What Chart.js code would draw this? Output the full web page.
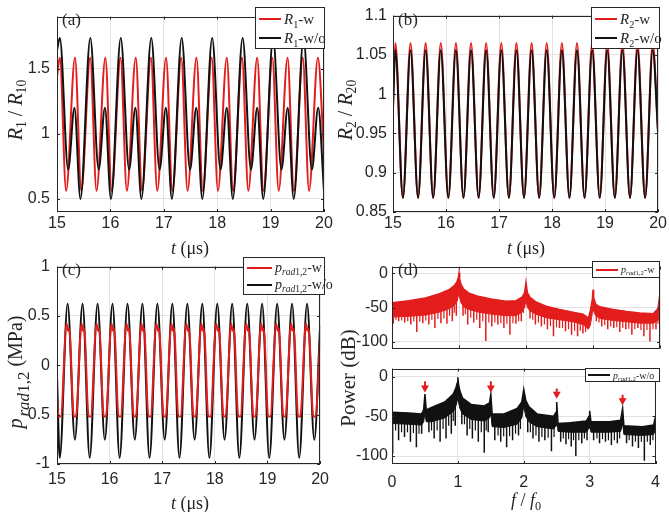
<!DOCTYPE html>
<html>
<head>
<meta charset="utf-8">
<script src="https://cdn.jsdelivr.net/npm/chart.js@4/dist/chart.umd.min.js"></script>
<style>
  body { margin: 0; background: #fff; }
  #fig { position: relative; width: 669px; height: 512px; background: #fff; overflow: hidden;
         font-family: "Liberation Serif", "Times New Roman", serif; color: #262626; }
  #fig canvas { position: absolute; }
  .lbl { position: absolute; white-space: nowrap; transform: translate(-50%, -50%); font-size: 18px; }
  .ylbl { position: absolute; white-space: nowrap; transform: translate(-50%, -50%) rotate(-90deg); font-size: 20px; }
  .tag { position: absolute; font-size: 17px; line-height: 17px; }
  .legend { position: absolute; background: #fff; border: 1px solid #262626; box-sizing: border-box; }
  .row { position: absolute; left: 3px; display: flex; align-items: center; white-space: nowrap; }
  .swatch { display: inline-block; height: 2px; margin-right: 3px; }
  sub { font-size: 0.68em; vertical-align: -0.35em; line-height: 0; }
  sub.big { font-size: 0.85em; vertical-align: -0.4em; margin-left: 2px; }
</style>
</head>
<body>
<div id="fig">
  <canvas id="chartA" width="335" height="240" style="left:0;top:0"></canvas>
  <canvas id="chartB" width="334" height="240" style="left:335px;top:0"></canvas>
  <canvas id="chartC" width="335" height="250" style="left:0;top:250px"></canvas>
  <canvas id="chartD1" width="334" height="109" style="left:335px;top:253px"></canvas>
  <canvas id="chartD2" width="334" height="145" style="left:335px;top:355px"></canvas>

  <div class="tag" style="left:62px;top:11px">(a)</div>
  <div class="tag" style="left:398px;top:11px">(b)</div>
  <div class="tag" style="left:62px;top:261px">(c)</div>
  <div class="tag" style="left:398px;top:261px">(d)</div>

  <div class="ylbl" style="left:15px;top:110px"><i>R</i><sub>1</sub> / <i>R</i><sub>10</sub></div>
  <div class="ylbl" style="left:345px;top:110px"><i>R</i><sub>2</sub> / <i>R</i><sub>20</sub></div>
  <div class="ylbl" style="left:15px;top:372px"><i>p</i><sub class="big"><i>rad</i>1,2</sub> (MPa)</div>
  <div class="ylbl" style="left:348px;top:378px;font-size:21px">Power (dB)</div>

  <div class="lbl" style="left:190px;top:248px"><i>t</i> (μs)</div>
  <div class="lbl" style="left:526px;top:248px"><i>t</i> (μs)</div>
  <div class="lbl" style="left:190px;top:503px"><i>t</i> (μs)</div>
  <div class="lbl" style="left:526px;top:500px"><i>f</i> / <i>f</i><sub>0</sub></div>

  <div class="legend" style="left:255px;top:7px;width:70px;height:42px;font-size:15px">
    <div class="row" style="top:2px;height:18px"><span class="swatch" style="width:22px;background:#e31c1c"></span><span><i>R</i><sub>1</sub>-w</span></div>
    <div class="row" style="top:21px;height:18px"><span class="swatch" style="width:22px;background:#111"></span><span><i>R</i><sub>1</sub>-w/o</span></div>
  </div>
  <div class="legend" style="left:591px;top:7px;width:69px;height:42px;font-size:15px">
    <div class="row" style="top:2px;height:18px"><span class="swatch" style="width:22px;background:#e31c1c"></span><span><i>R</i><sub>2</sub>-w</span></div>
    <div class="row" style="top:21px;height:18px"><span class="swatch" style="width:22px;background:#111"></span><span><i>R</i><sub>2</sub>-w/o</span></div>
  </div>
  <div class="legend" style="left:243px;top:257px;width:82px;height:38px;font-size:14px">
    <div class="row" style="top:2px;height:16px"><span class="swatch" style="width:25px;background:#e31c1c"></span><span><i>p</i><sub><i>rad</i>1,2</sub>-w</span></div>
    <div class="row" style="top:19px;height:16px"><span class="swatch" style="width:25px;background:#111"></span><span><i>p</i><sub><i>rad</i>1,2</sub>-w/o</span></div>
  </div>
  <div class="legend" style="left:592px;top:261px;width:68px;height:17px;font-size:10px">
    <div class="row" style="top:0;height:15px"><span class="swatch" style="width:22px;background:#e31c1c"></span><span><i>p</i><sub><i>rad</i>1,2</sub>-w</span></div>
  </div>
  <div class="legend" style="left:585px;top:368px;width:75px;height:14px;font-size:10px">
    <div class="row" style="top:0;height:12px;left:2px"><span class="swatch" style="width:22px;background:#111"></span><span><i>p</i><sub><i>rad</i>1,2</sub>-w/o</span></div>
  </div>
</div>

<script>
// Tick values
const timeTicks = [15, 16, 17, 18, 19, 20];
const aTicks = [0.5, 1, 1.5];
const bTicks = [0.85, 0.9, 0.95, 1, 1.05, 1.1];
const cTicks = [-1, -0.5, 0, 0.5, 1];
const freqTicks = [0, 1, 2, 3, 4];
const dbTicks = [-100, -50, 0];

// (a) R1/R10, extrema
const aTimeRed = [15, 15.053, 15.171, 15.337, 15.455, 15.622, 15.740, 15.906, 16.024, 16.190, 16.308,
  16.475, 16.593, 16.759, 16.877, 17.043, 17.161, 17.327, 17.445, 17.612, 17.730, 17.896, 18.014,
  18.180, 18.298, 18.465, 18.583, 18.749, 18.867, 19.033, 19.151, 19.318, 19.436, 19.602, 19.720,
  19.886, 20];
const aRed = [1.44, 1.585, 0.563, 1.585, 0.563, 1.585, 0.563, 1.585, 0.563, 1.585, 0.563,
  1.585, 0.563, 1.585, 0.563, 1.585, 0.563, 1.585, 0.563, 1.585, 0.563, 1.585, 0.563,
  1.585, 0.563, 1.585, 0.563, 1.585, 0.563, 1.585, 0.563, 1.585, 0.563, 1.585, 0.563,
  1.585, 0.85];
const aTimeBlack = [15, 15.053, 15.209, 15.327, 15.439, 15.624, 15.780, 15.898, 16.010, 16.194, 16.350,
  16.468, 16.580, 16.765, 16.921, 17.039, 17.151, 17.335, 17.491, 17.609, 17.721, 17.906, 18.062,
  18.180, 18.292, 18.476, 18.632, 18.750, 18.862, 19.047, 19.203, 19.321, 19.433, 19.617, 19.773,
  19.891, 20];
const aBlack = [1.64, 1.736, 0.726, 1.2, 0.5, 1.736, 0.726, 1.2, 0.5, 1.736, 0.726,
  1.2, 0.5, 1.736, 0.726, 1.2, 0.5, 1.736, 0.726, 1.2, 0.5, 1.736, 0.726,
  1.2, 0.5, 1.736, 0.726, 1.2, 0.5, 1.736, 0.726, 1.2, 0.5, 1.736, 0.726,
  1.2, 0.56];

// (b) R2/R20
const bTime = [15, 15.044, 15.187, 15.330, 15.473, 15.615, 15.758, 15.901, 16.044, 16.186, 16.329,
  16.472, 16.615, 16.757, 16.900, 17.043, 17.186, 17.328, 17.471, 17.614, 17.757, 17.899, 18.042,
  18.185, 18.328, 18.470, 18.613, 18.756, 18.899, 19.041, 19.184, 19.327, 19.470, 19.612, 19.755,
  19.898, 20];
const bRed = [0.983, 1.065, 0.868, 1.065, 0.868, 1.065, 0.868, 1.065, 0.868, 1.065, 0.868,
  1.065, 0.868, 1.065, 0.868, 1.065, 0.868, 1.065, 0.868, 1.065, 0.868, 1.065, 0.868,
  1.065, 0.868, 1.065, 0.868, 1.065, 0.868, 1.065, 0.868, 1.065, 0.868, 1.065, 0.868,
  1.065, 0.95];
const bBlack = [0.983, 1.056, 0.868, 1.056, 0.868, 1.056, 0.868, 1.056, 0.868, 1.056, 0.868,
  1.056, 0.868, 1.056, 0.868, 1.056, 0.868, 1.056, 0.868, 1.056, 0.868, 1.056, 0.868,
  1.056, 0.868, 1.056, 0.868, 1.056, 0.868, 1.056, 0.868, 1.056, 0.868, 1.056, 0.868,
  1.056, 0.95];

// (c) p_rad1,2 (MPa)
const cTimeBlack = [15, 15.052, 15.202, 15.340, 15.486, 15.621, 15.771, 15.909, 16.055, 16.190, 16.340,
  16.478, 16.624, 16.758, 16.908, 17.046, 17.193, 17.327, 17.477, 17.615, 17.762, 17.896, 18.046,
  18.184, 18.330, 18.465, 18.615, 18.753, 18.899, 19.034, 19.184, 19.322, 19.468, 19.603, 19.752,
  19.890, 20];
const cBlack = [-0.1, -0.937, 0.624, -0.754, 0.624, -0.937, 0.624, -0.754, 0.624, -0.937, 0.624,
  -0.754, 0.624, -0.937, 0.624, -0.754, 0.624, -0.937, 0.624, -0.754, 0.624, -0.937, 0.624,
  -0.754, 0.624, -0.937, 0.624, -0.754, 0.624, -0.937, 0.624, -0.754, 0.624, -0.937, 0.624,
  -0.754, 0.4];
const cTimeRed = [15,
  15.032, 15.072, 15.182, 15.212, 15.232,
  15.320, 15.360, 15.466, 15.496, 15.516,
  15.601, 15.641, 15.751, 15.781, 15.801,
  15.889, 15.929, 16.035, 16.065, 16.085,
  16.170, 16.210, 16.320, 16.350, 16.370,
  16.458, 16.498, 16.604, 16.634, 16.654,
  16.738, 16.778, 16.888, 16.918, 16.938,
  17.026, 17.066, 17.173, 17.203, 17.223,
  17.307, 17.347, 17.457, 17.487, 17.507,
  17.595, 17.635, 17.742, 17.772, 17.792,
  17.876, 17.916, 18.026, 18.056, 18.076,
  18.164, 18.204, 18.310, 18.340, 18.360,
  18.445, 18.485, 18.595, 18.625, 18.645,
  18.733, 18.773, 18.879, 18.909, 18.929,
  19.014, 19.054, 19.164, 19.194, 19.214,
  19.302, 19.342, 19.448, 19.478, 19.498,
  19.583, 19.623, 19.732, 19.762, 19.782,
  19.870, 19.910, 20];
const cRed = [-0.33,
  -0.52, -0.52, 0.42, 0.35, 0.37,
  -0.52, -0.52, 0.42, 0.35, 0.37,
  -0.52, -0.52, 0.42, 0.35, 0.37,
  -0.52, -0.52, 0.42, 0.35, 0.37,
  -0.52, -0.52, 0.42, 0.35, 0.37,
  -0.52, -0.52, 0.42, 0.35, 0.37,
  -0.52, -0.52, 0.42, 0.35, 0.37,
  -0.52, -0.52, 0.42, 0.35, 0.37,
  -0.52, -0.52, 0.42, 0.35, 0.37,
  -0.52, -0.52, 0.42, 0.35, 0.37,
  -0.52, -0.52, 0.42, 0.35, 0.37,
  -0.52, -0.52, 0.42, 0.35, 0.37,
  -0.52, -0.52, 0.42, 0.35, 0.37,
  -0.52, -0.52, 0.42, 0.35, 0.37,
  -0.52, -0.52, 0.42, 0.35, 0.37,
  -0.52, -0.52, 0.42, 0.35, 0.37,
  -0.52, -0.52, 0.42, 0.35, 0.37,
  -0.52, -0.52, 0.27];

// (d) spectra: upper edge and lower edge of the dense band, plus spikes [f, top, bottom]
const redEnvF = [0, 0.25, 0.5, 0.7, 0.85, 0.93, 0.97, 0.99, 1.0, 1.01, 1.03, 1.07, 1.15, 1.3, 1.5,
  1.7, 1.85, 1.94, 1.98, 2.0, 2.02, 2.06, 2.15, 2.3, 2.5, 2.7, 2.85, 2.9, 2.93, 2.96, 2.99, 3.0,
  3.01, 3.04, 3.1, 3.3, 3.5, 3.7, 3.9, 3.97, 4.0];
const redEnvTop = [-43, -40, -36, -30, -24, -18, -12, -6, 1, -8, -16, -23, -29, -34, -38,
  -41, -40, -35, -28, -13, -28, -35, -42, -48, -53, -57, -60, -63, -66, -55, -38, -24,
  -36, -45, -49, -53, -56, -58, -59, -52, -28];
const redEnvLow = [-64, -63, -61, -57, -52, -47, -41, -33, -20, -35, -43, -49, -53, -57, -60,
  -62, -62, -57, -50, -38, -50, -55, -60, -65, -68, -71, -75, -79, -82, -76, -58, -44,
  -55, -62, -66, -69, -71, -73, -73, -69, -48];
const redSpikes = [
  [0.02, -60, -74], [0.10, -60, -70], [0.19, -59, -72], [0.28, -59, -75], [0.37, -58, -86],
  [0.46, -56, -73], [0.55, -55, -75], [0.64, -52, -80], [0.73, -50, -73], [0.82, -46, -74],
  [0.90, -42, -70], [0.96, -36, -62], [1.06, -42, -62], [1.13, -46, -75], [1.22, -50, -72],
  [1.31, -52, -80], [1.40, -54, -99], [1.49, -55, -78], [1.58, -56, -75], [1.67, -57, -80],
  [1.76, -57, -90], [1.85, -56, -74], [1.93, -50, -70], [2.06, -50, -66], [2.14, -54, -75],
  [2.23, -57, -78], [2.32, -60, -82], [2.41, -62, -92], [2.50, -64, -80], [2.59, -66, -85],
  [2.68, -67, -90], [2.77, -70, -92], [2.85, -72, -88], [3.05, -56, -70], [3.13, -62, -78],
  [3.22, -64, -82], [3.31, -65, -80], [3.40, -66, -86], [3.49, -67, -82], [3.58, -68, -90],
  [3.67, -68, -80], [3.76, -69, -92], [3.85, -69, -100], [3.94, -67, -82]];
const redComb = [
  [0.06, -60, -68], [0.145, -60, -69], [0.235, -59, -70], [0.325, -58, -70], [0.415, -57, -71],
  [0.505, -56, -69], [0.595, -54, -68], [0.685, -51, -67], [0.775, -48, -66], [0.86, -44, -62],
  [0.93, -40, -58], [1.095, -44, -60], [1.175, -48, -65], [1.265, -51, -68], [1.355, -53, -70],
  [1.445, -55, -72], [1.535, -56, -72], [1.625, -57, -73], [1.715, -57, -74], [1.805, -57, -73],
  [1.89, -54, -70], [1.96, -44, -58], [2.10, -52, -68], [2.185, -55, -72], [2.275, -59, -75],
  [2.365, -61, -77], [2.455, -63, -79], [2.545, -65, -80], [2.635, -67, -82], [2.725, -68, -84],
  [2.81, -71, -84], [2.89, -75, -86], [3.09, -60, -72], [3.175, -63, -76], [3.265, -65, -78],
  [3.355, -66, -79], [3.445, -67, -80], [3.535, -68, -81], [3.625, -68, -82], [3.715, -69, -83],
  [3.805, -69, -83], [3.895, -69, -82], [3.97, -62, -74]];

const blackEnvF = [0, 0.25, 0.45, 0.48, 0.5, 0.52, 0.6, 0.8, 0.93, 0.97, 0.99, 1.0, 1.01, 1.03, 1.07,
  1.2, 1.4, 1.48, 1.5, 1.52, 1.7, 1.9, 1.97, 2.0, 2.03, 2.08, 2.2, 2.45, 2.49, 2.5, 2.52, 2.7,
  2.95, 2.99, 3.0, 3.02, 3.3, 3.47, 3.5, 3.52, 3.8, 3.97, 4.0];
const blackEnvTop = [-45, -46, -47, -42, -22, -42, -39, -32, -22, -14, -8, -1, -10, -18, -27,
  -35, -37, -33, -22, -47, -47, -40, -32, -16, -30, -38, -47, -50, -45, -32, -59, -58,
  -56, -50, -43, -57, -57, -55, -40, -62, -63, -61, -50];
const blackEnvLow = [-59, -60, -61, -57, -46, -57, -57, -52, -44, -37, -30, -22, -32, -40, -47,
  -54, -56, -52, -47, -63, -64, -60, -52, -37, -50, -57, -63, -66, -62, -52, -69, -70,
  -70, -65, -59, -70, -70, -69, -59, -73, -74, -73, -66];
const blackSpikes = [
  [0.01, -56, -97], [0.10, -56, -80], [0.19, -57, -76], [0.28, -57, -82], [0.37, -58, -89],
  [0.45, -58, -72], [0.56, -54, -70], [0.64, -54, -78], [0.73, -52, -82], [0.82, -48, -78],
  [0.90, -44, -72], [0.96, -36, -62], [1.06, -36, -60], [1.14, -46, -74], [1.22, -50, -78],
  [1.31, -52, -82], [1.40, -53, -96], [1.46, -52, -70], [1.56, -60, -80], [1.65, -61, -82],
  [1.74, -61, -89], [1.83, -60, -80], [1.92, -54, -74], [2.06, -52, -70], [2.14, -58, -78],
  [2.23, -61, -82], [2.32, -62, -80], [2.42, -63, -94], [2.56, -66, -82], [2.64, -67, -85],
  [2.72, -67, -88], [2.79, -67, -100], [2.88, -67, -84], [2.96, -65, -80], [3.06, -67, -80],
  [3.15, -67, -84], [3.24, -67, -82], [3.33, -67, -86], [3.42, -67, -84], [3.56, -70, -84],
  [3.65, -71, -88], [3.74, -71, -90], [3.83, -71, -106], [3.92, -71, -86]];
const blackComb = [
  [0.055, -56, -68], [0.145, -57, -70], [0.235, -57, -70], [0.325, -58, -71], [0.41, -58, -72],
  [0.60, -54, -68], [0.685, -52, -68], [0.775, -50, -66], [0.86, -46, -62], [0.93, -40, -56],
  [1.10, -42, -60], [1.18, -48, -66], [1.265, -51, -68], [1.355, -52, -70], [1.43, -52, -68],
  [1.61, -60, -74], [1.695, -61, -75], [1.785, -61, -75], [1.875, -58, -72], [1.95, -50, -66],
  [2.10, -55, -70], [2.185, -60, -74], [2.275, -62, -76], [2.37, -63, -77], [2.46, -62, -76],
  [2.60, -67, -78], [2.68, -67, -79], [2.755, -67, -80], [2.835, -67, -80], [2.92, -66, -78],
  [3.11, -67, -78], [3.195, -67, -79], [3.285, -67, -80], [3.375, -67, -80], [3.455, -66, -78],
  [3.60, -71, -80], [3.695, -71, -82], [3.785, -71, -82], [3.875, -71, -82], [3.96, -70, -80]];

// red arrows over the subharmonic peaks
const arrowF = [0.5, 1.5, 2.5, 3.5];
const arrowTop = [-6, -6, -15, -23];
const arrowTip = [-20, -20, -28, -36];

const RED = "#e31c1c";
const BLACK = "#111111";

function xy(xs, ys) {
  return xs.map((x, i) => ({ x: x, y: ys[i] }));
}

function spikeData(spikes) {
  const pts = [];
  spikes.forEach((s) => {
    pts.push({ x: s[0], y: s[1] }, { x: s[0], y: s[2] }, { x: s[0], y: null });
  });
  return pts;
}

function wave(xs, ys, color) {
  return {
    data: xy(xs, ys),
    borderColor: color,
    borderWidth: 2,
    pointRadius: 0,
    fill: false,
    cubicInterpolationMode: "monotone",
  };
}

function axis(min, max, ticks, size, pad, isX, showLabels) {
  return {
    type: "linear",
    min: min,
    max: max,
    afterBuildTicks: (s) => {
      s.ticks = ticks.map((v) => ({ value: v }));
    },
    afterFit: (s) => {
      if (isX) s.height = size;
      else s.width = size;
    },
    grid: { color: "#e2e2e2", drawTicks: false },
    border: { display: false },
    ticks: {
      display: showLabels,
      padding: pad,
      maxRotation: 0,
      color: "#262626",
      font: { family: "Liberation Sans", size: 16 },
      callback: (v) => String(+v.toFixed(3)),
    },
  };
}

// box around plot area + small inward ticks (MATLAB style)
const boxPlugin = {
  id: "box",
  afterDatasetsDraw(chart) {
    const { ctx, chartArea: a, scales } = chart;
    ctx.save();
    ctx.strokeStyle = "#262626";
    ctx.lineWidth = 1;
    ctx.beginPath();
    scales.x.ticks.forEach((t) => {
      const px = Math.round(scales.x.getPixelForValue(t.value)) + 0.5;
      ctx.moveTo(px, a.bottom);
      ctx.lineTo(px, a.bottom - 3);
      ctx.moveTo(px, a.top);
      ctx.lineTo(px, a.top + 3);
    });
    scales.y.ticks.forEach((t) => {
      const py = Math.round(scales.y.getPixelForValue(t.value)) + 0.5;
      ctx.moveTo(a.left, py);
      ctx.lineTo(a.left + 3, py);
      ctx.moveTo(a.right, py);
      ctx.lineTo(a.right - 3, py);
    });
    ctx.stroke();
    ctx.strokeRect(Math.round(a.left) + 0.5, Math.round(a.top) + 0.5,
      Math.round(a.right - a.left) - 1, Math.round(a.bottom - a.top) - 1);
    ctx.restore();
  },
};

const arrowPlugin = {
  id: "arrows",
  afterDatasetsDraw(chart) {
    const { ctx, scales } = chart;
    ctx.save();
    ctx.strokeStyle = RED;
    ctx.fillStyle = RED;
    ctx.lineWidth = 2;
    arrowF.forEach((f, i) => {
      const x = scales.x.getPixelForValue(f);
      const y1 = scales.y.getPixelForValue(arrowTop[i]);
      const y2 = scales.y.getPixelForValue(arrowTip[i]);
      ctx.beginPath();
      ctx.moveTo(x, y1);
      ctx.lineTo(x, y2 - 5);
      ctx.stroke();
      ctx.beginPath();
      ctx.moveTo(x - 4, y2 - 7);
      ctx.lineTo(x + 4, y2 - 7);
      ctx.lineTo(x, y2);
      ctx.closePath();
      ctx.fill();
    });
    ctx.restore();
  },
};

function makeChart(id, datasets, xAxis, yAxis, padding, extra) {
  return new Chart(document.getElementById(id), {
    type: "line",
    data: { datasets: datasets },
    options: {
      responsive: false,
      animation: false,
      layout: { padding: padding },
      plugins: { legend: { display: false }, tooltip: { enabled: false } },
      scales: { x: xAxis, y: yAxis },
    },
    plugins: [boxPlugin].concat(extra || []),
  });
}

function spectrum(envF, top, low, spikes, comb, color) {
  return [
    { data: xy(envF, top), borderColor: color, borderWidth: 1.5, pointRadius: 0, fill: false },
    { data: xy(envF, low), borderColor: color, borderWidth: 1, pointRadius: 0, fill: "-1", backgroundColor: color },
    { data: spikeData(spikes), borderColor: color, borderWidth: 1.5, pointRadius: 0, fill: false, spanGaps: false },
    { data: spikeData(comb), borderColor: color, borderWidth: 1.2, pointRadius: 0, fill: false, spanGaps: false },
  ];
}

makeChart("chartA",
  [wave(aTimeBlack, aBlack, BLACK), wave(aTimeRed, aRed, RED)],
  axis(15, 20, timeTicks, 28, 2, true, true),
  axis(0.4, 1.9, aTicks, 57, 7, false, true),
  { left: 0, top: 6, right: 11, bottom: 0 });

makeChart("chartB",
  [wave(bTime, bBlack, BLACK), wave(bTime, bRed, RED)],
  axis(15, 20, timeTicks, 28, 2, true, true),
  axis(0.85, 1.1, bTicks, 58, 6, false, true),
  { left: 0, top: 7, right: 9, bottom: 0 });

makeChart("chartC",
  [wave(cTimeRed, cRed, RED), wave(cTimeBlack, cBlack, BLACK)],
  axis(15, 20, timeTicks, 36, 6, true, true),
  axis(-1, 1, cTicks, 57, 7, false, true),
  { left: 0, top: 7, right: 11, bottom: 0 });

makeChart("chartD1",
  spectrum(redEnvF, redEnvTop, redEnvLow, redSpikes, redComb, RED),
  axis(0, 4, freqTicks, 0, 0, true, false),
  axis(-110, 10, dbTicks, 57, 4, false, true),
  { left: 0, top: 7, right: 9, bottom: 0 });

makeChart("chartD2",
  spectrum(blackEnvF, blackEnvTop, blackEnvLow, blackSpikes, blackComb, BLACK),
  axis(0, 4, freqTicks, 36, 9, true, true),
  axis(-110, 10, dbTicks, 57, 4, false, true),
  { left: 0, top: 7, right: 9, bottom: 0 },
  [arrowPlugin]);
</script>
</body>
</html>
